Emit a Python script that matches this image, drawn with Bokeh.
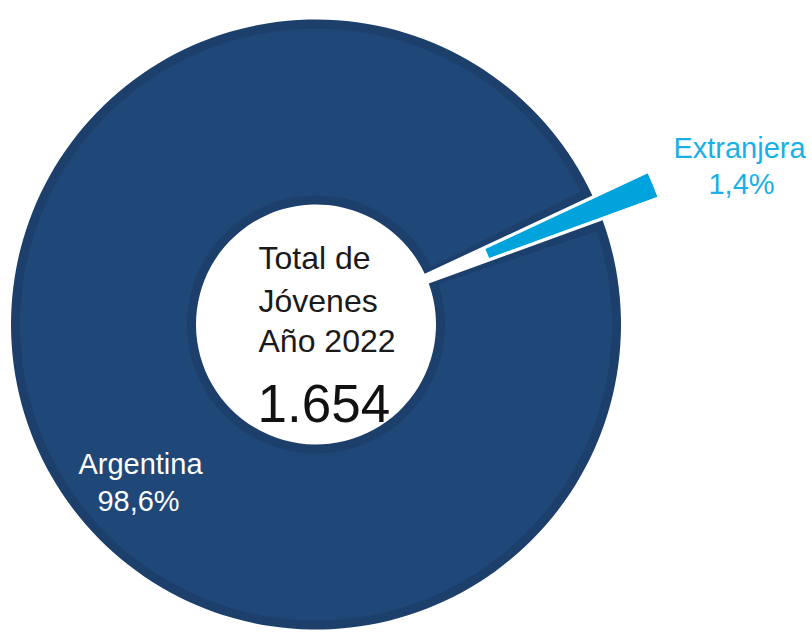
import math
from bokeh.plotting import figure
from bokeh.models import Range1d
from bokeh.core.properties import value
from bokeh.embed import file_html
from bokeh.resources import INLINE

# ---- data ----
categories = ["Argentina", "Extranjera"]
shares = [98.6, 1.4]
share_labels = ["98,6%", "1,4%"]
center_lines = ["Total de", "Jóvenes", "Año 2022"]
total_label = "1.654"

# ---- style ----
MAIN = "#1F4778"
BORDER = "#1C3F6B"
LIGHT = "#00A3DB"
LABEL_LIGHT = "#1AAFE6"

W, H = 812, 634
cx, cy = 315.5, 310
r_out, r_in = 305, 120
explode = 65
mid_ext = math.radians(22.5)

p = figure(width=W, height=H, output_backend="svg", toolbar_location=None,
           x_range=Range1d(0, W), y_range=Range1d(0, H), min_border=0)
p.axis.visible = False
p.grid.visible = False
p.outline_line_color = None
p.background_fill_color = "white"
p.border_fill_color = "white"

# angles from shares
span_ext = math.radians(shares[1] / 100 * 360)
span_arg = math.radians(shares[0] / 100 * 360)
ext_start = mid_ext - span_ext / 2
ext_end = mid_ext + span_ext / 2
arg_start = ext_end
arg_end = arg_start + span_arg

# Argentina: border layer then main fill inset
p.annular_wedge(x=[cx], y=[cy], inner_radius=r_in, outer_radius=r_out,
                start_angle=[arg_start], end_angle=[arg_end],
                fill_color=BORDER, line_color=None)
inset = math.radians(1.6)
p.annular_wedge(x=[cx], y=[cy], inner_radius=r_in + 9, outer_radius=r_out - 9,
                start_angle=[arg_start + inset], end_angle=[arg_end - inset],
                fill_color=MAIN, line_color=None)

# Extranjera: exploded wedge
ex = cx + explode * math.cos(mid_ext)
ey = cy + explode * math.sin(mid_ext)
p.annular_wedge(x=[ex], y=[ey], inner_radius=r_in, outer_radius=r_out - 5,
                start_angle=[ext_start], end_angle=[ext_end],
                fill_color=LIGHT, line_color="white", line_width=1)

# center text
font = value("Liberation Sans")
p.text(x=[258, 258, 258], y=[377, 334, 294], text=center_lines,
       text_font=font, text_font_size="32px", text_color="#1a1a1a",
       text_align="left", text_baseline="alphabetic")
p.text(x=[257], y=[231], text=[total_label],
       text_font=font, text_font_size="53px", text_color="#111111",
       text_align="left", text_baseline="alphabetic")

# category labels
p.text(x=[140, 138], y=[171, 134], text=[categories[0], share_labels[0]],
       text_font=font, text_font_size="29px", text_color="white",
       text_align="center", text_baseline="alphabetic")
p.text(x=[739, 741], y=[487, 451], text=[categories[1], share_labels[1]],
       text_font=font, text_font_size="29px", text_color=LABEL_LIGHT,
       text_align="center", text_baseline="alphabetic")

open("out.html", "w").write(file_html(p, INLINE))
